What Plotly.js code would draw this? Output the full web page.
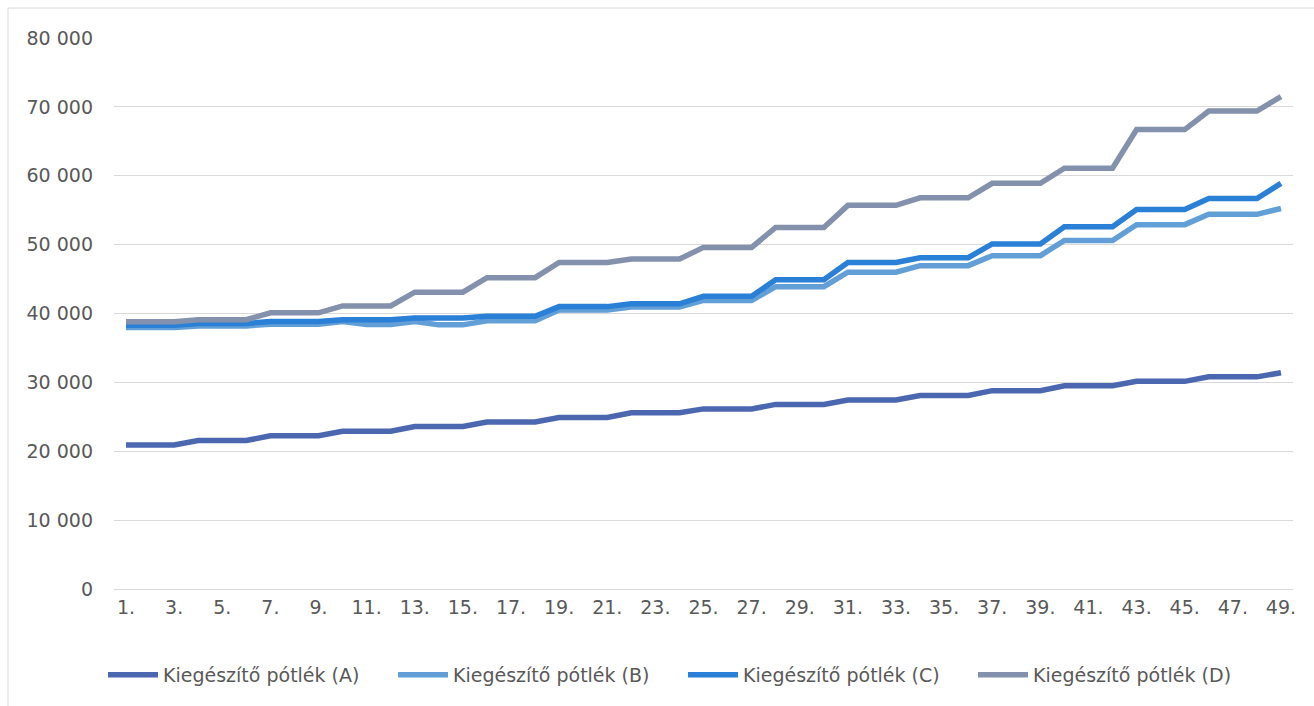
<!DOCTYPE html>
<html>
<head>
<meta charset="utf-8">
<script src="https://cdn.plot.ly/plotly-3.0.1.min.js"></script>
<style>
  html, body { margin: 0; padding: 0; background: #ffffff; }
  #chart { width: 1314px; height: 706px; }
</style>
</head>
<body>
<div id="chart"></div>
<script>
const categories = ["1.","2.","3.","4.","5.","6.","7.","8.","9.","10.",
  "11.","12.","13.","14.","15.","16.","17.","18.","19.","20.",
  "21.","22.","23.","24.","25.","26.","27.","28.","29.","30.",
  "31.","32.","33.","34.","35.","36.","37.","38.","39.","40.",
  "41.","42.","43.","44.","45.","46.","47.","48.","49."];

const tickLabels = ["1.","3.","5.","7.","9.","11.","13.","15.","17.","19.","21.","23.","25.",
  "27.","29.","31.","33.","35.","37.","39.","41.","43.","45.","47.","49."];

const seriesNames = ["Kiegészítő pótlék (A)", "Kiegészítő pótlék (B)", "Kiegészítő pótlék (C)", "Kiegészítő pótlék (D)"];

const valuesA = [20900,20900,20900, 21550,21550,21550, 22250,22250,22250, 22900,22900,22900,
  23600,23600,23600, 24250,24250,24250, 24900,24900,24900, 25600,25600,25600,
  26150,26150,26150, 26800,26800,26800, 27450,27450,27450, 28100,28100,28100,
  28800,28800,28800, 29500,29500,29500, 30150,30150,30150, 30800,30800,30800, 31400];

const valuesB = [37950,37950,37950, 38200,38200,38200, 38450,38450,38450, 38850,38400,38400,
  38850,38350,38350, 38950,38950,38950, 40500,40500,40500, 40950,40950,40950,
  41900,41900,41900, 43900,43900,43900, 46000,46000,46000, 46950,46950,46950,
  48400,48400,48400, 50600,50600,50600, 52900,52900,52900, 54400,54400,54400, 55250];

const valuesC = [38300,38300,38300, 38550,38550,38550, 38850,38850,38850, 39100,39100,39100,
  39350,39350,39350, 39600,39600,39600, 41000,41000,41000, 41400,41400,41400,
  42500,42500,42500, 44900,44900,44900, 47400,47400,47400, 48100,48100,48100,
  50100,50100,50100, 52600,52600,52600, 55100,55100,55100, 56700,56700,56700, 58900];

const valuesD = [38800,38800,38800, 39100,39100,39100, 40100,40100,40100, 41100,41100,41100,
  43100,43100,43100, 45200,45200,45200, 47400,47400,47400, 47900,47900,47900,
  49600,49600,49600, 52500,52500,52500, 55700,55700,55700, 56800,56800,56800,
  58900,58900,58900, 61100,61100,61100, 66700,66700,66700, 69400,69400,69400, 71500];

const colors = ["#4a67af", "#629fd6", "#2a7fd6", "#8391ac"];
const allValues = [valuesA, valuesB, valuesC, valuesD];

const traces = allValues.map((vals, i) => ({
  type: "scatter",
  mode: "lines",
  x: categories,
  y: vals,
  name: seriesNames[i],
  line: { color: colors[i], width: 5.5, shape: "linear" },
  hoverinfo: "x+y+name"
}));

const fontFamily = "'DejaVu Sans', 'Open Sans', sans-serif";
const fontSize = 19;

const layout = {
  width: 1314,
  height: 706,
  paper_bgcolor: "#ffffff",
  plot_bgcolor: "#ffffff",
  separators: ", ",
  margin: { l: 114, r: 21, t: 38, b: 117 },
  font: { family: fontFamily, size: fontSize, color: "#595959" },
  showlegend: true,
  legend: {
    orientation: "h",
    xref: "container",
    yref: "container",
    x: 0.0784,
    xanchor: "left",
    y: 0.044,
    yanchor: "middle",
    font: { family: fontFamily, size: fontSize, color: "#595959" },
    itemwidth: 50,
    entrywidth: 225,
    entrywidthmode: "pixels",
    traceorder: "normal"
  },
  xaxis: {
    type: "category",
    categoryorder: "array",
    categoryarray: categories,
    range: [-0.5, 48.5],
    tickmode: "array",
    tickvals: tickLabels,
    ticktext: tickLabels,
    showgrid: false,
    showline: false,
    zeroline: false,
    ticks: "",
    ticklabelstandoff: 5,
    tickfont: { family: fontFamily, size: fontSize, color: "#595959" },
    fixedrange: true
  },
  yaxis: {
    range: [0, 80000],
    tickmode: "linear",
    tick0: 0,
    dtick: 10000,
    tickformat: ",d",
    showgrid: true,
    gridcolor: "#d9d9d9",
    gridwidth: 1,
    zeroline: true,
    zerolinecolor: "#d9d9d9",
    zerolinewidth: 1,
    showline: false,
    ticks: "",
    ticklabelstandoff: 20,
    tickfont: { family: fontFamily, size: fontSize, color: "#595959" },
    fixedrange: true
  },
  shapes: [{
    type: "rect",
    xref: "paper",
    yref: "paper",
    x0: -0.0899, x1: 1.2,
    y0: -0.4, y1: 1.0544,
    line: { color: "#d9d9d9", width: 1 },
    fillcolor: "rgba(0,0,0,0)",
    layer: "below"
  }]
};

Plotly.newPlot("chart", traces, layout, { displayModeBar: false, staticPlot: true });
</script>
</body>
</html>
